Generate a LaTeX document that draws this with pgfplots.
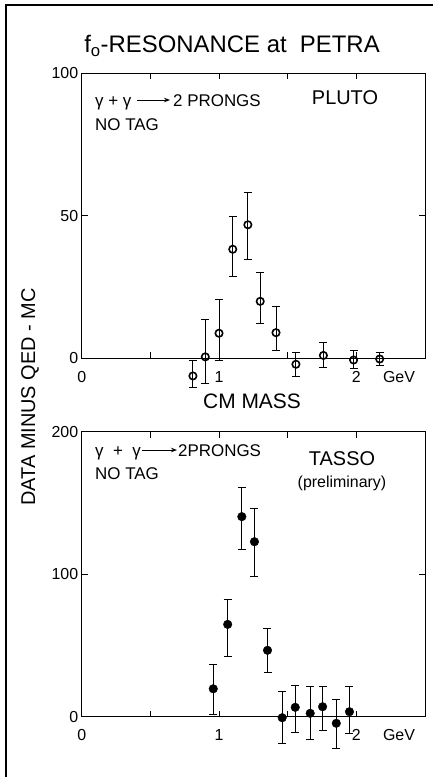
\documentclass[border=0pt]{standalone}
\usepackage{fontspec}
\setmainfont{Liberation Sans}
\usepackage{pgfplots}
\usepackage{pgfplotstable}
\pgfplotsset{compat=1.18}
\usetikzlibrary{arrows.meta}
\newcommand\fs[1]{\fontsize{#1}{#1}\selectfont}

% PLUTO, open circles (x in GeV, y, error up, error down)
\pgfplotstableread{
x     y     ep    em
0.81  -6.3  5.6   3.9
0.90   0.4  13.0  9.2
1.00   8.7  12.0  9.7
1.10  38.2  11.5  9.4
1.21  46.8  11.3  12.3
1.30  19.9  10.1  7.6
1.415  8.9  9.1   6.3
1.56  -2.2  4.1   4.4
1.76   0.9  4.6   4.2
1.98  -0.7  3.3   2.9
2.17  -0.35 2.2   2.1
}\pluto

% TASSO (preliminary), filled circles
\pgfplotstableread{
x     y      ep    em
0.958  19.6  17.4  17.7
1.063  64.8  17.6  22.2
1.166 140.4  20.6  22.9
1.258 122.8  23.4  24.6
1.353  46.6  15.2  15.4
1.46   -0.7  18.7  18.0
1.555   6.6  15.6  17.8
1.664   2.4  18.7  18.3
1.754   7.0  14.5  16.3
1.854  -4.6  16.8  17.6
1.95    3.5  17.6  15.1
}\tasso

\pgfplotsset{
  panel/.style={
    scale only axis, width=343.3bp,
    xmin=0, xmax=2.5, ymin=0,
    axis line style={line width=1bp},
    tick align=inside, tick pos=both,
    major tick length=6bp,
    every tick/.style={black, line width=0.9bp},
    xtick={0,0.5,1,1.5,2}, xticklabels={0,,1,,2},
    tick label style={font=\fs{16}},
    xticklabel style={anchor=base, yshift=-24bp},
    /pgf/number format/assume math mode=true,
    clip=false,
  },
  errs/.style={
    only marks,
    error bars/y dir=both, error bars/y explicit,
    error bars/error bar style={line width=0.9bp},
    error bars/error mark options={rotate=90, mark size=4bp, line width=0.9bp},
  },
}

\begin{document}
\begin{tikzpicture}[x=1bp,y=1bp]
\useasboundingbox (0,0) rectangle (433,-777);
\draw[line width=1.5bp] (6,-777) -- (6,-5) -- (433,-5);

\node[anchor=base, inner sep=0] at (232,-53) {\fs{24}f\textsubscript{o}-RESONANCE at\ \ PETRA};
\node[rotate=90, anchor=base, inner sep=0] at (35,-397) {\fs{20}DATA MINUS QED - MC};

\begin{axis}[panel, at={(81.7bp,-358bp)}, anchor=south west,
    height=284.7bp, ymax=100, ytick={0,50,100}]
  \addplot+[errs, black, mark=o, mark size=3.7bp,
      mark options={line width=1.6bp, fill=white}]
    table[x=x, y=y, y error plus=ep, y error minus=em] {\pluto};
\end{axis}

\begin{axis}[panel, at={(81.7bp,-716.7bp)}, anchor=south west,
    height=285bp, ymax=200, ytick={0,100,200}]
  \addplot+[errs, black, mark=*, mark size=4.3bp,
      mark options={fill=black}]
    table[x=x, y=y, y error plus=ep, y error minus=em] {\tasso};
\end{axis}

% panel texts
\node[anchor=base west, inner sep=0, font=\fs{17}] at (95,-106) {γ + γ};
\draw[line width=0.9bp, -{Stealth[length=6bp,width=4.5bp]}] (137,-100) -- (170,-100);
\node[anchor=base west, inner sep=0, font=\fs{17}] at (173,-106) {2 PRONGS};
\node[anchor=base west, inner sep=0, font=\fs{17}] at (95,-130) {NO TAG};
\node[anchor=base, inner sep=0, font=\fs{20}] at (345,-104) {PLUTO};

\node[anchor=base west, inner sep=0, font=\fs{17}] at (95,-456) {γ\ \ +\ \ γ};
\draw[line width=0.9bp, -{Stealth[length=6bp,width=4.5bp]}] (142,-450) -- (177,-450);
\node[anchor=base west, inner sep=0, font=\fs{17}] at (178,-456) {2PRONGS};
\node[anchor=base west, inner sep=0, font=\fs{17}] at (95,-479) {NO TAG};
\node[anchor=base, inner sep=0, font=\fs{20}] at (342,-465) {TASSO};
\node[anchor=base, inner sep=0, font=\fs{16}] at (342,-487) {(preliminary)};

\node[anchor=base, inner sep=0, font=\fs{21}] at (252,-408) {CM MASS};
\node[anchor=base, inner sep=0, font=\fs{16}] at (399,-382) {GeV};
\node[anchor=base, inner sep=0, font=\fs{16}] at (399,-740.7) {GeV};
\end{tikzpicture}
\end{document}
